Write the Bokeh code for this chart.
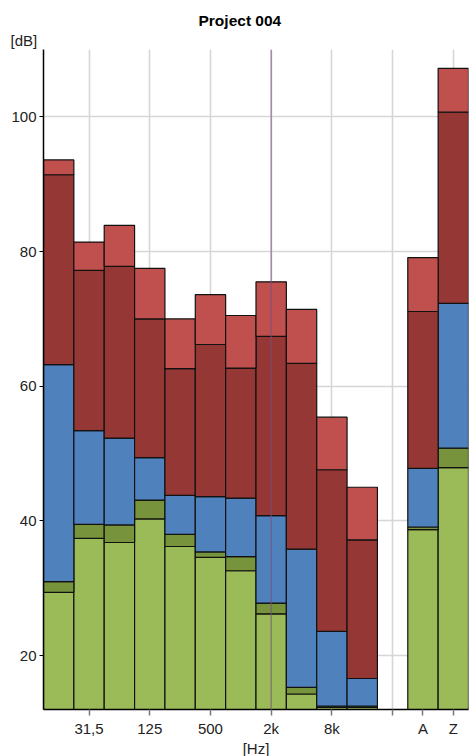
from bokeh.plotting import figure
from bokeh.models import FixedTicker, Span, Title, Range1d
from bokeh.embed import file_html
from bokeh.resources import INLINE

# ---- data ----
bands = ["16", "31,5", "63", "125", "250", "500", "1k", "2k", "4k", "8k", "16k", "A", "Z"]
light_green = [29.4, 37.4, 36.8, 40.3, 36.2, 34.6, 32.6, 26.2, 14.3, 12.3, 12.3, 38.7, 47.9]
dark_green = [31.0, 39.5, 39.4, 43.1, 38.0, 35.4, 34.7, 27.8, 15.3, 12.5, 12.5, 39.1, 50.8]
blue = [63.2, 53.4, 52.3, 49.4, 43.8, 43.6, 43.4, 40.8, 35.8, 23.6, 16.6, 47.8, 72.3]
dark_red = [91.4, 77.2, 77.8, 70.0, 62.6, 66.2, 62.7, 67.4, 63.4, 47.6, 37.2, 71.1, 100.7]
light_red = [93.6, 81.4, 83.9, 77.5, 70.0, 73.6, 70.5, 75.5, 71.4, 55.4, 45.0, 79.1, 107.2]
tick_labels = ["31,5", "125", "500", "2k", "8k", "", "A", "Z"]
y_ticks = [20, 40, 60, 80, 100]
y_min, y_max = 12, 110

# one empty slot between the octave bands and the A/Z totals
n_oct = 11
x_centers = [(i if i < n_oct else i + 1) + 0.5 for i in range(len(bands))]
gap_center = n_oct + 0.5

tick_locs = []
for lab in tick_labels:
    tick_locs.append(gap_center if lab == "" else x_centers[bands.index(lab)])
overrides = {loc: lab for loc, lab in zip(tick_locs, tick_labels)}
grid_locs = [loc for loc, lab in zip(tick_locs, tick_labels) if lab != "A"]

FONT = "Liberation Sans"

p = figure(frame_width=425, frame_height=660, x_range=Range1d(0, len(bands) + 1),
           y_range=Range1d(y_min, y_max), output_backend="svg",
           toolbar_location=None, min_border_left=43, min_border_right=1,
           min_border_top=49, min_border_bottom=0)
p.outline_line_color = None
p.background_fill_color = "white"

t_db = Title(text="[dB]", align="left", offset=-33, standoff=1,
             text_font=FONT, text_font_size="15px", text_font_style="normal",
             text_color="#222222")
t_main = Title(text="Project 004", align="left", offset=155, standoff=2,
               text_font=FONT, text_font_size="15.5px", text_font_style="bold",
               text_color="#000000")
p.add_layout(t_db, "above")
p.add_layout(t_main, "above")

layers = [
    (None, light_green, "#9BBB59"),
    (light_green, dark_green, "#77933C"),
    (dark_green, blue, "#4F81BD"),
    (blue, dark_red, "#953735"),
    (dark_red, light_red, "#C0504D"),
]
for bot, top, col in layers:
    bottoms = [y_min] * len(top) if bot is None else bot
    p.vbar(x=x_centers, width=1.0, bottom=bottoms, top=top, fill_color=col,
           line_color="#111111", line_width=1.2)

# grid
p.xgrid.ticker = FixedTicker(ticks=grid_locs)
p.ygrid.ticker = FixedTicker(ticks=y_ticks)
p.grid.grid_line_color = "#d6d6d6"
p.grid.grid_line_width = 1.6

# cursor line at 2k
p.add_layout(Span(location=x_centers[bands.index("2k")], dimension="height",
                  line_color="#7a5080", line_alpha=0.6, line_width=1.5))

# axes
p.xaxis.ticker = FixedTicker(ticks=tick_locs)
p.xaxis.major_label_overrides = overrides
p.yaxis.ticker = FixedTicker(ticks=y_ticks)
for ax in (p.xaxis[0], p.yaxis[0]):
    ax.axis_line_color = "#000000"
    ax.axis_line_width = 1.5
    ax.minor_tick_line_color = None
    ax.major_tick_in = 0
    ax.major_label_text_font = FONT
    ax.major_label_text_font_size = "15px"
    ax.major_label_text_color = "#222222"
p.xaxis.major_tick_out = 6
p.xaxis.major_tick_line_color = "#777777"
p.xaxis.major_tick_line_width = 1.5
p.xaxis.major_label_standoff = 4
p.yaxis.major_tick_out = 4
p.yaxis.major_tick_line_color = "#000000"
p.yaxis.major_label_standoff = 3

p.xaxis.axis_label = "[Hz]"
p.xaxis.axis_label_text_font = FONT
p.xaxis.axis_label_text_font_size = "15px"
p.xaxis.axis_label_text_font_style = "normal"
p.xaxis.axis_label_text_color = "#222222"
p.xaxis.axis_label_standoff = 0

open("out.html", "w").write(file_html(p, INLINE))
